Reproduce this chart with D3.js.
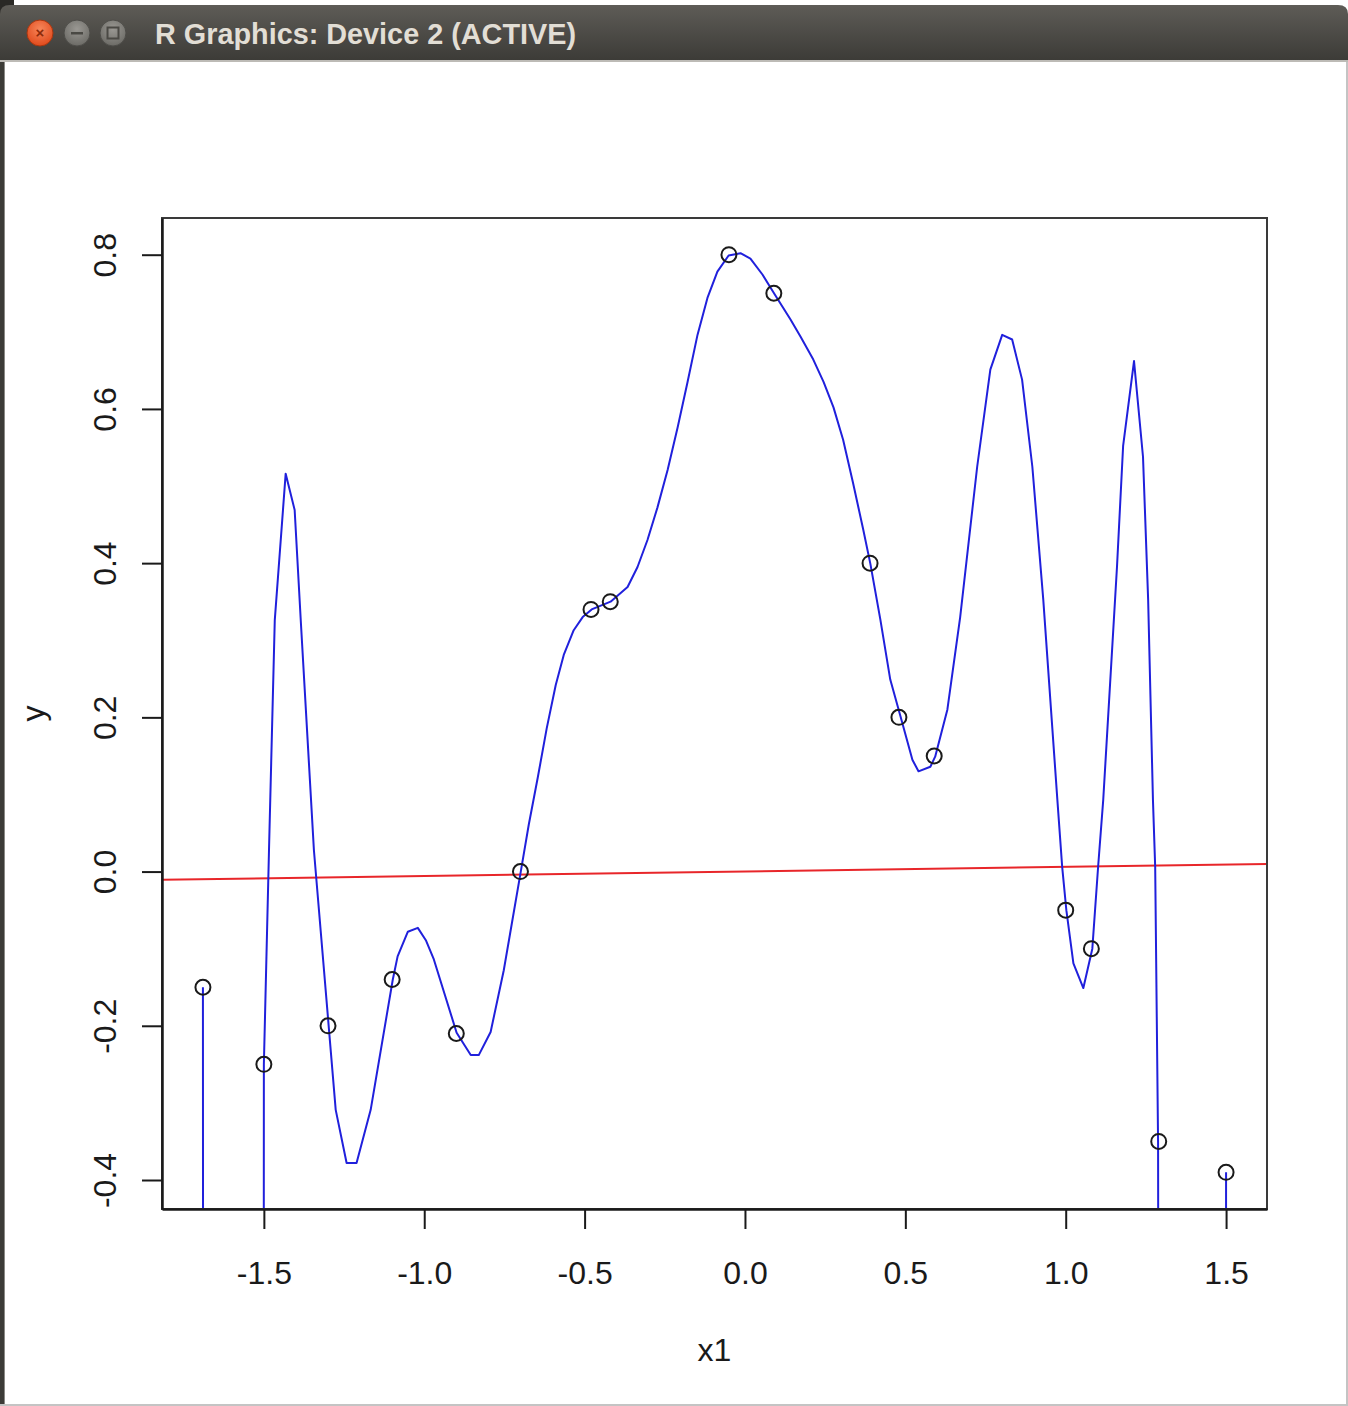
<!DOCTYPE html>
<html>
<head>
<meta charset="utf-8">
<script src="https://cdn.jsdelivr.net/npm/d3@7"></script>
<style>
  body { margin: 0; background: #fff; }
  svg { display: block; }
  text { font-family: "Liberation Sans", Arial, Helvetica, sans-serif; }
</style>
</head>
<body>
<div id="chart"></div>
<script>
// observed points (x1, y)
const pointX = [-1.69, -1.5, -1.3, -1.1, -0.9, -0.7, -0.48, -0.42, -0.05, 0.09, 0.39, 0.48, 0.59, 1.0, 1.08, 1.29, 1.5];
const pointY = [-0.15, -0.25, -0.20, -0.14, -0.21, 0.0, 0.34, 0.35, 0.80, 0.75, 0.40, 0.20, 0.15, -0.05, -0.10, -0.35, -0.39];

// fitted curve (blue); parts between the edge points fall far below the frame
const curveX = [-1.69, -1.689, -1.501, -1.5, -1.484, -1.466, -1.432, -1.404, -1.385, -1.344, -1.276, -1.242, -1.211,
  -1.167, -1.098, -1.083, -1.051, -1.02, -0.995, -0.97, -0.899, -0.855, -0.83, -0.793, -0.752, -0.699, -0.674,
  -0.646, -0.618, -0.59, -0.565, -0.534, -0.506, -0.478, -0.419, -0.366, -0.335, -0.304, -0.273, -0.241, -0.21,
  -0.179, -0.148, -0.117, -0.086, -0.051, -0.014, 0.017, 0.055, 0.092, 0.142, 0.173, 0.213, 0.245, 0.276,
  0.306, 0.337, 0.369, 0.391, 0.422, 0.453, 0.485, 0.522, 0.541, 0.578, 0.593, 0.631, 0.671, 0.724,
  0.765, 0.802, 0.833, 0.864, 0.896, 0.93, 0.974, 0.989, 1.002, 1.024, 1.055, 1.083, 1.101, 1.117, 1.16,
  1.179, 1.213, 1.241, 1.257, 1.272, 1.279, 1.288, 1.291, 1.499, 1.5];
const curveY = [-0.15, -1.2, -1.2, -0.25, 0.028, 0.326, 0.516, 0.469, 0.326, 0.028, -0.309, -0.378, -0.378,
  -0.309, -0.14, -0.11, -0.078, -0.073, -0.089, -0.114, -0.209, -0.238, -0.238, -0.208, -0.128, 0.0, 0.061,
  0.122, 0.186, 0.242, 0.281, 0.313, 0.33, 0.34, 0.35, 0.369, 0.395, 0.43, 0.472, 0.521, 0.576,
  0.635, 0.696, 0.744, 0.778, 0.799, 0.802, 0.795, 0.774, 0.749, 0.716, 0.694, 0.664, 0.635, 0.602,
  0.56, 0.504, 0.443, 0.399, 0.327, 0.249, 0.201, 0.145, 0.13, 0.136, 0.149, 0.21, 0.33, 0.525,
  0.651, 0.696, 0.69, 0.638, 0.525, 0.353, 0.093, 0.006, -0.05, -0.119, -0.151, -0.1, 0.006, 0.093, 0.396,
  0.552, 0.662, 0.538, 0.353, 0.093, 0.006, -0.351, -1.2, -1.2, -0.39];

// linear fit (red): intercept, slope
const lmCoef = [0.0002, 0.006];

const xTicks = [-1.5, -1.0, -0.5, 0.0, 0.5, 1.0, 1.5];
const yTicks = [-0.4, -0.2, 0.0, 0.2, 0.4, 0.6, 0.8];

const W = 1348, H = 1406;
const box = { left: 162, right: 1267, top: 218, bottom: 1209 };

const svg = d3.select("#chart").append("svg")
  .attr("width", W)
  .attr("height", H);

// ---- window chrome ----
const defs = svg.append("defs");
const tg = defs.append("linearGradient").attr("id", "titlebar").attr("x1", 0).attr("y1", 0).attr("x2", 0).attr("y2", 1);
tg.append("stop").attr("offset", "0%").attr("stop-color", "#5e5c57");
tg.append("stop").attr("offset", "100%").attr("stop-color", "#3b3a36");
const cg = defs.append("radialGradient").attr("id", "closebtn").attr("cx", "50%").attr("cy", "35%").attr("r", "65%");
cg.append("stop").attr("offset", "0%").attr("stop-color", "#f7865a");
cg.append("stop").attr("offset", "100%").attr("stop-color", "#e04a1c");
const gg = defs.append("radialGradient").attr("id", "graybtn").attr("cx", "50%").attr("cy", "35%").attr("r", "65%");
gg.append("stop").attr("offset", "0%").attr("stop-color", "#9a9893");
gg.append("stop").attr("offset", "100%").attr("stop-color", "#6c6b66");

svg.append("rect").attr("x", 0).attr("y", 0).attr("width", 14).attr("height", 14).attr("fill", "#2a2926");
svg.append("path")
  .attr("d", `M0,62 L0,14 Q0,5 10,5 L${W - 10},5 Q${W},5 ${W},14 L${W},62 Z`)
  .attr("fill", "url(#titlebar)");
svg.append("rect").attr("x", 0).attr("y", 60).attr("width", W).attr("height", 2).attr("fill", "#bdbbb6");
svg.append("rect").attr("x", 0).attr("y", 62).attr("width", 5).attr("height", H - 62).attr("fill", "#3c3b37");
svg.append("rect").attr("x", 4).attr("y", 62).attr("width", 1).attr("height", H - 62).attr("fill", "#8a8985");
svg.append("rect").attr("x", W - 2).attr("y", 62).attr("width", 2).attr("height", H - 62).attr("fill", "#c4c4c4");
svg.append("rect").attr("x", 0).attr("y", H - 2).attr("width", W).attr("height", 2).attr("fill", "#c4c4c4");

const buttons = [
  { cx: 40, fill: "url(#closebtn)", stroke: "#a8360f" },
  { cx: 77, fill: "url(#graybtn)", stroke: "#4e4d49" },
  { cx: 113, fill: "url(#graybtn)", stroke: "#4e4d49" }
];
svg.selectAll("circle.btn").data(buttons).join("circle")
  .attr("class", "btn")
  .attr("cx", d => d.cx).attr("cy", 33).attr("r", 13)
  .attr("fill", d => d.fill).attr("stroke", d => d.stroke).attr("stroke-width", 1);
svg.append("text").attr("x", 40).attr("y", 38).attr("text-anchor", "middle")
  .attr("font-size", 15).attr("font-weight", "bold").attr("fill", "#8c2a0a").text("×");
svg.append("rect").attr("x", 71).attr("y", 32).attr("width", 12).attr("height", 2.5).attr("fill", "#4a4944");
svg.append("rect").attr("x", 107.5).attr("y", 27.5).attr("width", 11).attr("height", 11)
  .attr("fill", "none").attr("stroke", "#4a4944").attr("stroke-width", 2);

svg.append("text")
  .attr("x", 155).attr("y", 44)
  .attr("font-family", "Ubuntu, 'Open Sans', 'DejaVu Sans', sans-serif")
  .attr("font-size", 29).attr("font-weight", "bold")
  .attr("fill", "#e2ded5")
  .attr("textLength", 421).attr("lengthAdjust", "spacingAndGlyphs")
  .text("R Graphics: Device 2 (ACTIVE)");

// ---- scales (R style: data range padded by 4%) ----
function rRange(v) {
  const [lo, hi] = d3.extent(v);
  const pad = (hi - lo) * 0.04;
  return [lo - pad, hi + pad];
}
const x = d3.scaleLinear().domain(rRange(pointX)).range([box.left, box.right]);
const y = d3.scaleLinear().domain(rRange(pointY)).range([box.bottom, box.top]);

defs.append("clipPath").attr("id", "plotclip")
  .append("rect")
  .attr("x", box.left).attr("y", box.top)
  .attr("width", box.right - box.left).attr("height", box.bottom - box.top);

const plot = svg.append("g").attr("clip-path", "url(#plotclip)");

// regression line across the frame
const xd = x.domain();
plot.append("line")
  .attr("x1", x(xd[0])).attr("y1", y(lmCoef[0] + lmCoef[1] * xd[0]))
  .attr("x2", x(xd[1])).attr("y2", y(lmCoef[0] + lmCoef[1] * xd[1]))
  .attr("stroke", "#e8262a").attr("stroke-width", 2);

// fitted curve
const curve = curveX.map((v, i) => [v, curveY[i]]);
plot.append("path")
  .datum(curve)
  .attr("fill", "none")
  .attr("stroke", "#2020dc")
  .attr("stroke-width", 2)
  .attr("stroke-linejoin", "round")
  .attr("d", d3.line().x(d => x(d[0])).y(d => y(d[1])));

// points (pch = 1)
const pts = pointX.map((v, i) => ({ x: v, y: pointY[i] }));
plot.selectAll("circle.pt").data(pts).join("circle")
  .attr("class", "pt")
  .attr("cx", d => x(d.x)).attr("cy", d => y(d.y)).attr("r", 7.5)
  .attr("fill", "none").attr("stroke", "#1a1a1a").attr("stroke-width", 2);

// frame
svg.append("rect")
  .attr("x", box.left).attr("y", box.top)
  .attr("width", box.right - box.left).attr("height", box.bottom - box.top)
  .attr("fill", "none").attr("stroke", "#3a3a3a").attr("stroke-width", 2);

// X axis
const xAxis = svg.append("g")
  .attr("transform", `translate(0,${box.bottom})`)
  .call(d3.axisBottom(x).tickValues(xTicks).tickFormat(d3.format(".1f")).tickSizeInner(20).tickSizeOuter(0).tickPadding(32));
xAxis.select(".domain").attr("stroke", "#1a1a1a").attr("stroke-width", 2.5);
xAxis.selectAll(".tick line").attr("stroke", "#1a1a1a").attr("stroke-width", 2);
xAxis.selectAll(".tick text")
  .attr("font-size", 32).attr("fill", "#1a1a1a")
  .attr("font-family", "'Liberation Sans', Arial, sans-serif")
  .text(d => d3.format(".1f")(d).replace("−", "-"));

// Y axis with rotated labels
const yAxis = svg.append("g")
  .attr("transform", `translate(${box.left},0)`)
  .call(d3.axisLeft(y).tickValues(yTicks).tickSizeInner(20).tickSizeOuter(0).tickFormat(""));
yAxis.select(".domain").attr("stroke", "#1a1a1a").attr("stroke-width", 2.5);
yAxis.selectAll(".tick line").attr("stroke", "#1a1a1a").attr("stroke-width", 2);
yAxis.selectAll(".tick").append("text")
  .attr("transform", "translate(-46,0) rotate(-90)")
  .attr("text-anchor", "middle")
  .attr("font-size", 32).attr("fill", "#1a1a1a")
  .attr("font-family", "'Liberation Sans', Arial, sans-serif")
  .text(d => d3.format(".1f")(d).replace("−", "-"));

// axis titles
svg.append("text")
  .attr("x", (box.left + box.right) / 2).attr("y", 1361)
  .attr("text-anchor", "middle").attr("font-size", 32).attr("fill", "#1a1a1a")
  .text("x1");
svg.append("text")
  .attr("transform", `translate(44,${(box.top + box.bottom) / 2}) rotate(-90)`)
  .attr("text-anchor", "middle").attr("font-size", 32).attr("fill", "#1a1a1a")
  .text("y");
</script>
</body>
</html>
